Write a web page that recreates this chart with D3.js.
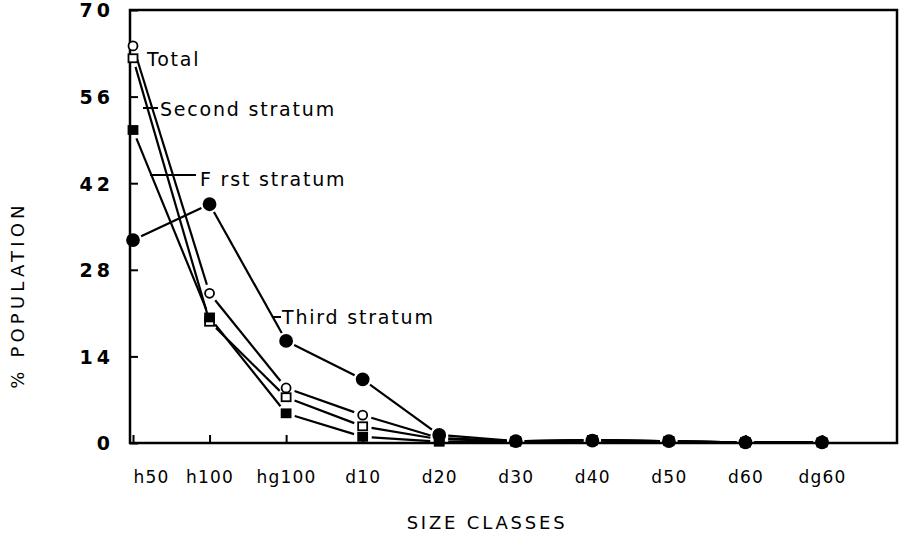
<!DOCTYPE html>
<html>
<head>
<meta charset="utf-8">
<script src="https://cdn.jsdelivr.net/npm/d3@7"></script>
<style>
  html, body { margin: 0; padding: 0; background: #fff; }
  svg { display: block; }
  text { font-family: "DejaVu Sans", sans-serif; fill: #000; }
</style>
</head>
<body>
<svg id="chart" width="905" height="534"></svg>
<script>
// ---- data ----
const categories = ["h50", "h100", "hg100", "d10", "d20", "d30", "d40", "d50", "d60", "dg60"];
const yTicks = [0, 14, 28, 42, 56, 70];
const totalValues  = [64.2, 24.2, 8.9, 4.5, 0.8, 0.3, 0.5, 0.3, 0.1, 0.1];
const secondValues = [62.2, 19.6, 7.4, 2.7, 0.6, 0.3, 0.5, 0.3, 0.1, 0.1];
const firstValues  = [50.6, 20.3, 4.8, 1.0, 0.2, 0.2, 0.4, 0.3, 0.1, 0.1];
const thirdValues  = [32.8, 38.6, 16.5, 10.3, 1.3, 0.3, 0.4, 0.3, 0.1, 0.1];
const seriesNames  = ["Total", "Second stratum", "F rst stratum", "Third stratum"];

// ---- layout ----
const plot = { left: 130, right: 897, top: 10, bottom: 443 };
const svg = d3.select("#chart");

const x = d3.scalePoint().domain(categories).range([plot.left + 3, plot.left + 692]);
const y = d3.scaleLinear().domain([0, 70]).range([plot.bottom, plot.top]);

// frame
svg.append("rect")
  .attr("x", plot.left).attr("y", plot.top)
  .attr("width", plot.right - plot.left).attr("height", plot.bottom - plot.top)
  .attr("fill", "none").attr("stroke", "#000").attr("stroke-width", 2.5);

// y axis
const gy = svg.append("g").attr("transform", `translate(${plot.left},0)`)
  .call(d3.axisLeft(y).tickValues(yTicks).tickSizeInner(-8).tickSizeOuter(0).tickPadding(16));
gy.select(".domain").remove();
gy.selectAll(".tick line").attr("stroke", "#000").attr("stroke-width", 2);
gy.selectAll(".tick text").style("font-size", "19px").style("font-weight", "bold")
  .style("letter-spacing", "4px").attr("dy", "0.36em");

// x axis ticks
const gx = svg.append("g").attr("transform", `translate(0,${plot.bottom})`)
  .call(d3.axisBottom(x).tickSizeInner(-8).tickSizeOuter(0).tickFormat(""));
gx.select(".domain").remove();
gx.selectAll(".tick line").attr("stroke", "#000").attr("stroke-width", 2);

// x axis labels
const gxl = svg.append("g").attr("transform", `translate(0,477)`)
  .call(d3.axisBottom(x).tickSize(0).tickPadding(0));
gxl.select(".domain").remove();
gxl.selectAll(".tick text").style("font-size", "17px").style("letter-spacing", "1.2px")
  .attr("y", 0).attr("dy", "0.36em")
  .attr("text-anchor", (d, i) => i === 0 ? "start" : "middle");

// axis titles
svg.append("text").attr("x", 487).attr("y", 523).attr("dy", "0.36em").attr("text-anchor", "middle")
  .style("font-size", "18px").style("letter-spacing", "2.8px").text("SIZE CLASSES");
svg.append("text").attr("transform", "translate(18,295) rotate(-90)").attr("dy", "0.36em")
  .attr("text-anchor", "middle")
  .style("font-size", "18px").style("letter-spacing", "4.2px").text("% POPULATION");

// series lines with gaps around markers
const series = [
  { name: seriesNames[0], values: totalValues,  marker: "circle", fill: "#fff", r: 4.5 },
  { name: seriesNames[1], values: secondValues, marker: "square", fill: "#fff", r: 4.5 },
  { name: seriesNames[2], values: firstValues,  marker: "square", fill: "#000", r: 4.5 },
  { name: seriesNames[3], values: thirdValues,  marker: "circle", fill: "#000", r: 6 }
];
const gap = 9;
series.forEach(s => {
  const pts = s.values.map((v, i) => [x(categories[i]), y(v)]);
  const segs = d3.pairs(pts).map(([a, b]) => {
    const dx = b[0] - a[0], dy = b[1] - a[1];
    const len = Math.hypot(dx, dy);
    const g = Math.min(gap, len * 0.3);
    const ux = dx / len, uy = dy / len;
    return [a[0] + ux * g, a[1] + uy * g, b[0] - ux * g, b[1] - uy * g];
  });
  svg.append("g").selectAll("line").data(segs).join("line")
    .attr("x1", d => d[0]).attr("y1", d => d[1]).attr("x2", d => d[2]).attr("y2", d => d[3])
    .attr("stroke", "#000").attr("stroke-width", 2.2);
});
series.forEach(s => {
  const g = svg.append("g");
  s.values.forEach((v, i) => {
    const cx = x(categories[i]), cy = y(v);
    if (s.marker === "circle") {
      g.append("circle").attr("cx", cx).attr("cy", cy).attr("r", s.r)
        .attr("fill", s.fill).attr("stroke", "#000").attr("stroke-width", 1.8);
    } else {
      g.append("rect").attr("x", cx - s.r).attr("y", cy - s.r + 0.5)
        .attr("width", s.r * 2).attr("height", s.r * 2 - 1)
        .attr("fill", s.fill).attr("stroke", "#000").attr("stroke-width", 1.8);
    }
  });
});

// annotations
const ann = svg.append("g").style("font-size", "19px").style("letter-spacing", "1.8px");
const leader = (x1, x2, yy) => ann.append("line").attr("x1", x1).attr("x2", x2)
  .attr("y1", yy).attr("y2", yy).attr("stroke", "#000").attr("stroke-width", 2);
// Total
ann.append("text").attr("x", 147).attr("y", 59).attr("dy", "0.36em").text(seriesNames[0]);
// Second stratum
leader(143, 158, 108);
ann.append("text").attr("x", 160).attr("y", 109).attr("dy", "0.36em").text(seriesNames[1]);
// First stratum
leader(150, 196, 175);
ann.append("text").attr("x", 200).attr("y", 179).attr("dy", "0.36em").text(seriesNames[2]);
// Third stratum
leader(273, 281, 317);
ann.append("text").attr("x", 282).attr("y", 317).attr("dy", "0.36em").text(seriesNames[3]);
</script>
</body>
</html>
